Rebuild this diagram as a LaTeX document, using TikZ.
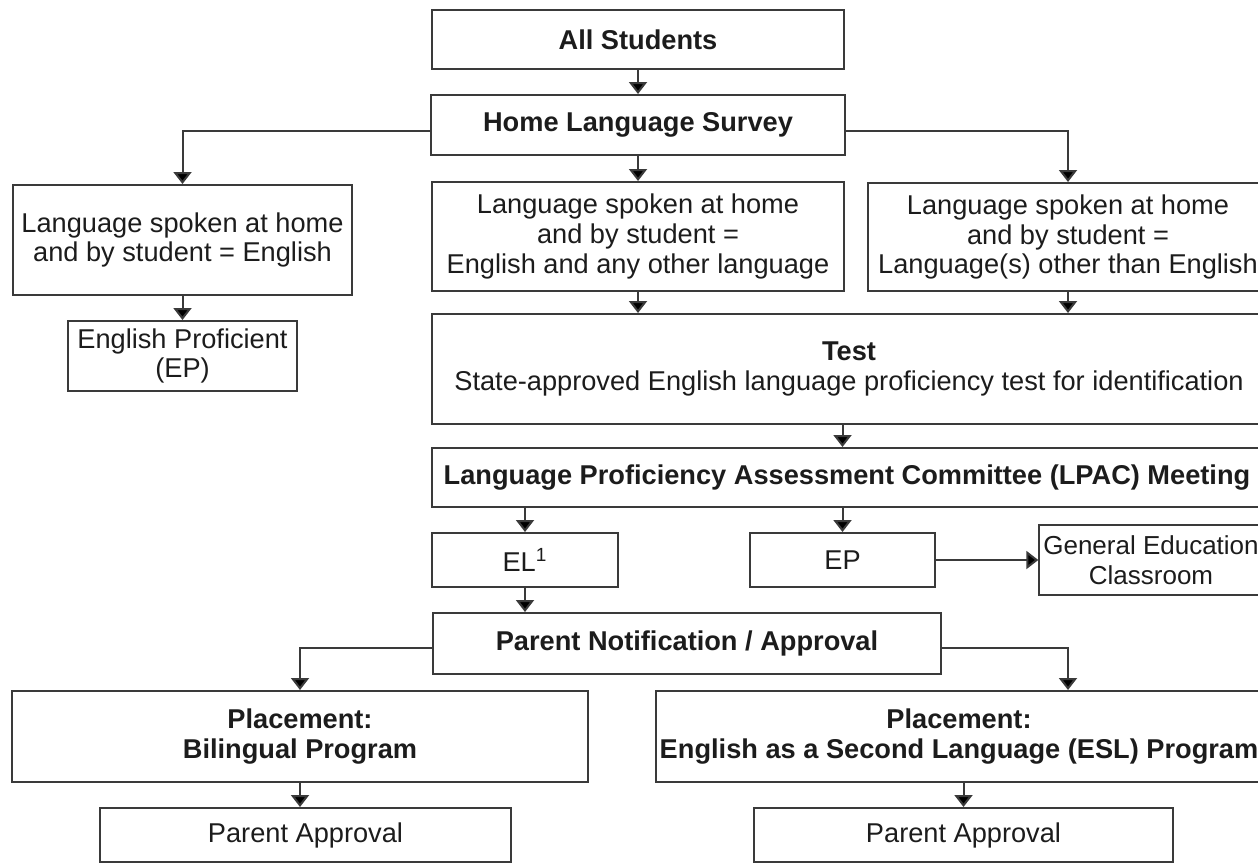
\documentclass[tikz,border=0pt]{standalone}
\usepackage{fontspec}
\setmainfont{Liberation Sans}
\usetikzlibrary{arrows.meta,graphs}
\definecolor{linegray}{HTML}{3A3A3A}
\definecolor{textgray}{HTML}{1C1C1C}
\tikzset{
    >={Triangle[width=9pt,length=6pt,fill=black]},
    stage/.style={
        draw=linegray,
        line width=1pt,
        rectangle,
        align=center,
        inner sep=2pt,
        text=textgray,
        font=\fontsize{13.6pt}{14.8pt}\selectfont,
    },
    keystage/.style={
        stage,
        font=\fontsize{13.6pt}{14.8pt}\selectfont\bfseries,
    },
    flow/.style={
        draw=linegray,
        line width=1pt,
        ->,
    },
}

\begin{document}
\begin{tikzpicture}[x=0.5pt,y=-0.5pt]
            \useasboundingbox (0,0) rectangle (1258,863);

            % survey
            \node[keystage, minimum width=206pt, minimum height=29.5pt] (allst) at (638,39.5) {All Students};
            \node[keystage, minimum width=207pt, minimum height=30pt] (hls) at (638,125) {Home Language Survey};

            % language at home
            \node[stage, minimum width=169.5pt, minimum height=55pt] (homeen) at (182.5,240)
                {Language spoken at home\\and by student = English};
            \node[stage, minimum width=206pt, minimum height=54.5pt] (homeboth) at (638,236.5)
                {Language spoken at home\\and by student =\\English and any other language};
            \node[stage, minimum width=200pt, minimum height=54pt] (homeother) at (1068,237)
                {Language spoken at home\\and by student =\\Language(s) other than English};
            \node[stage, minimum width=114.5pt, minimum height=35pt] (epfirst) at (182.5,356)
                {English Proficient\\(EP)};

            % identification
            \node[stage, minimum width=417pt, minimum height=55pt] (test) at (849,369)
                {\textbf{Test}\\State-approved English language proficiency test for identification};
            \node[keystage, minimum width=415pt, minimum height=29.5pt] (lpac) at (847,477.5)
                {Language Proficiency Assessment Committee (LPAC) Meeting};
            \node[stage, minimum width=93pt, minimum height=27pt] (el) at (525,560) {EL\textsuperscript{1}};
            \node[stage, minimum width=92.5pt, minimum height=27pt] (ep) at (842.5,560) {EP};
            \node[stage, minimum width=108pt, minimum height=35pt,
                  font=\fontsize{13pt}{14.8pt}\selectfont] (gened) at (1151,560)
                {General Education\\Classroom};

            % placement
            \node[keystage, minimum width=254pt, minimum height=30.5pt] (notify) at (687,643.5)
                {Parent Notification / Approval};
            \node[keystage, minimum width=288pt, minimum height=45.5pt] (bilingual) at (300,736.5)
                {Placement:\\Bilingual Program};
            \node[keystage, minimum width=303pt, minimum height=45.5pt] (esl) at (959,736.5)
                {Placement:\\English as a Second Language (ESL) Program};
            \node[stage, minimum width=205.5pt, minimum height=27pt] (approvebil) at (305.5,835) {Parent Approval};
            \node[stage, minimum width=209.5pt, minimum height=27pt] (approveesl) at (963.5,835) {Parent Approval};

            \graph[use existing nodes, edges={flow}]{
                allst -> hls -> homeboth;
                homeen -> epfirst;
                ep -> gened;
            };

            \draw[flow] ([yshift=-3pt]hls.west) -| (homeen.north);
            \draw[flow] ([yshift=-3pt]hls.east) -| (homeother.north);
            \draw[flow] (homeboth.south) -- (homeboth.south |- test.north);
            \draw[flow] (homeother.south) -- (homeother.south |- test.north);
            \draw[flow] (ep.north |- test.south) -- (ep.north |- lpac.north);
            \draw[flow] (el.north |- lpac.south) -- (el.north);
            \draw[flow] (ep.north |- lpac.south) -- (ep.north);
            \draw[flow] (el.south) -- (el.south |- notify.north);
            \draw[flow] ([yshift=-2pt]notify.west) -| (bilingual.north);
            \draw[flow] ([yshift=-2pt]notify.east) -| (homeother |- esl.north);
            \draw[flow] (bilingual.south) -- (bilingual.south |- approvebil.north);
            \draw[flow] (approveesl.north |- esl.south) -- (approveesl.north);
        \end{tikzpicture}
\end{document}
